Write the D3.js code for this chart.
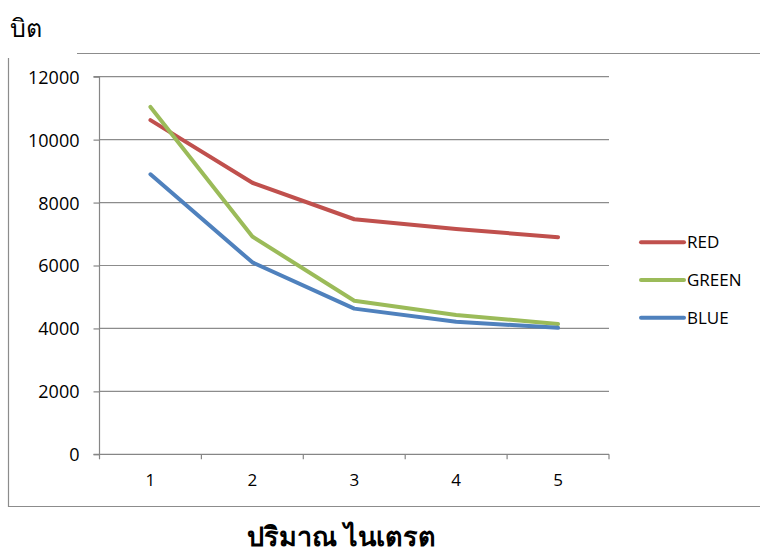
<!DOCTYPE html>
<html lang="th">
<head>
<meta charset="UTF-8">
<title>Nitrate chart</title>
<style>
  body { margin: 0; background: #fff; }
  svg text { font-family: "Open Sans", "Noto Sans", sans-serif; fill: #000; }
</style>
</head>
<body>
<div id="chart"></div>
<script src="https://cdnjs.cloudflare.com/ajax/libs/d3/7.8.5/d3.min.js"></script>
<script>
  // data
  var categories = ["1", "2", "3", "4", "5"];
  var seriesNames = ["RED", "GREEN", "BLUE"];
  var redValues = [10620, 8630, 7470, 7160, 6900];
  var greenValues = [11040, 6920, 4880, 4430, 4140];
  var blueValues = [8900, 6100, 4630, 4210, 4020];
  var yTicks = [0, 2000, 4000, 6000, 8000, 10000, 12000];
  var colors = ["#C0504D", "#9BBB59", "#4F81BD"];
  var yTitle = "บิต";
  var xTitle = "ปริมาณ ไนเตรต";

  var series = [redValues, greenValues, blueValues];

  var width = 760, height = 557;
  var plot = { left: 99.5, right: 609, top: 76.7, bottom: 454.3 };

  var svg = d3.select("#chart").append("svg")
    .attr("width", width)
    .attr("height", height);

  // outer frame (open at the top-left corner, like the original)
  svg.append("path")
    .attr("d", "M77,53.5H760 M8.5,58V506.5H760")
    .attr("fill", "none")
    .attr("stroke", "#8c8c8c")
    .attr("stroke-width", 1.2);

  var x = d3.scaleBand().domain(categories).range([plot.left, plot.right]);
  var y = d3.scaleLinear().domain([0, 12000]).range([plot.bottom, plot.top]);

  // gridlines
  svg.append("g").selectAll("line")
    .data(yTicks.filter(function (d) { return d > 0; }))
    .enter().append("line")
    .attr("x1", plot.left).attr("x2", plot.right)
    .attr("y1", function (d) { return y(d); })
    .attr("y2", function (d) { return y(d); })
    .attr("stroke", "#8c8c8c")
    .attr("stroke-width", 1.2);

  // y axis
  var yAxis = svg.append("g")
    .attr("transform", "translate(" + plot.left + ",0)")
    .call(d3.axisLeft(y).tickValues(yTicks).tickSize(6).tickPadding(14).tickFormat(d3.format("d")));
  yAxis.selectAll("line, path").attr("stroke", "#868686").attr("stroke-width", 1.2);
  yAxis.select(".domain").attr("d", "M-6," + plot.bottom + "H0V" + plot.top + "H-6");
  yAxis.selectAll("text").style("font-size", "18px").attr("dy", "0.36em");

  // x axis, ticks at band boundaries
  var xAxis = svg.append("g")
    .attr("transform", "translate(0," + plot.bottom + ")");
  xAxis.append("line")
    .attr("x1", plot.left).attr("x2", plot.right)
    .attr("stroke", "#868686").attr("stroke-width", 1.2);
  var bounds = categories.map(function (c) { return x(c); }).concat([plot.right]);
  xAxis.selectAll(".tick").data(bounds).enter().append("line")
    .attr("x1", function (d) { return d; }).attr("x2", function (d) { return d; })
    .attr("y1", 0).attr("y2", 5)
    .attr("stroke", "#868686").attr("stroke-width", 1.2);
  xAxis.selectAll(".lbl").data(categories).enter().append("text")
    .attr("x", function (d) { return x(d) + x.bandwidth() / 2; })
    .attr("y", 32)
    .attr("text-anchor", "middle")
    .style("font-size", "17px")
    .text(function (d) { return d; });

  // lines
  var line = d3.line()
    .x(function (d, i) { return x(categories[i]) + x.bandwidth() / 2; })
    .y(function (d) { return y(d); });

  svg.append("g").selectAll("path")
    .data(series)
    .enter().append("path")
    .attr("d", line)
    .attr("fill", "none")
    .attr("stroke", function (d, i) { return colors[i]; })
    .attr("stroke-width", 4)
    .attr("stroke-linejoin", "round")
    .attr("stroke-linecap", "round");

  // legend
  var legend = svg.append("g").selectAll("g")
    .data(seriesNames)
    .enter().append("g")
    .attr("transform", function (d, i) { return "translate(641," + (242.3 + i * 37.7) + ")"; });
  legend.append("line")
    .attr("x1", 0).attr("x2", 43)
    .attr("stroke", function (d, i) { return colors[i]; })
    .attr("stroke-width", 4)
    .attr("stroke-linecap", "round");
  legend.append("text")
    .attr("x", 46).attr("dy", "0.36em")
    .style("font-size", "17px")
    .text(function (d) { return d; });

  // axis titles
  svg.append("text")
    .attr("x", 10).attr("y", 37)
    .style("font-size", "25px")
    .text(yTitle);
  svg.append("text")
    .attr("x", 342).attr("y", 546)
    .attr("text-anchor", "middle")
    .style("font-size", "27px")
    .style("font-weight", "bold")
    .text(xTitle);
</script>
</body>
</html>
